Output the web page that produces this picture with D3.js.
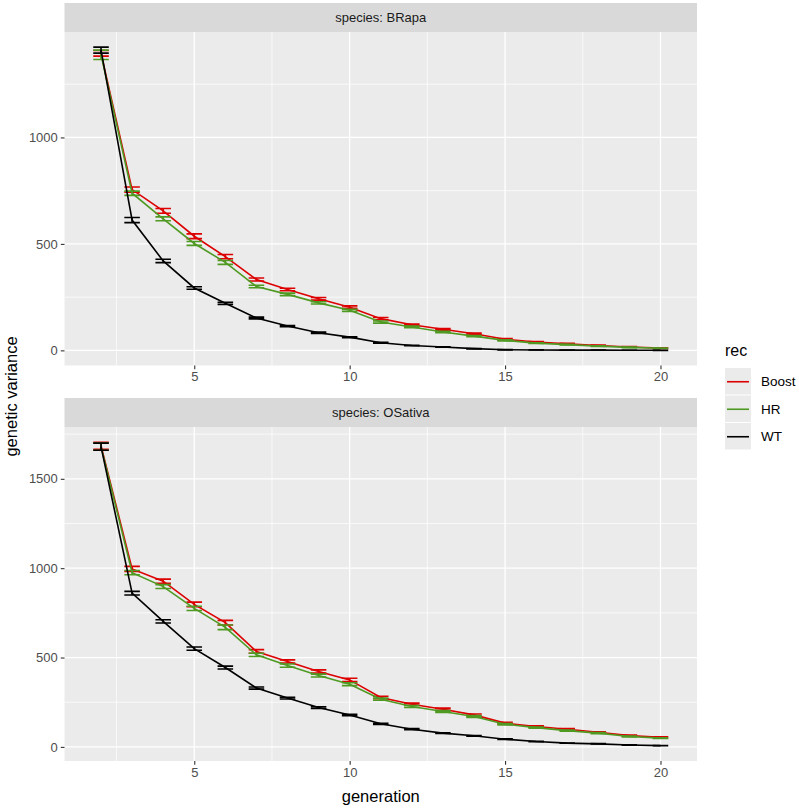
<!DOCTYPE html>
<html>
<head>
<meta charset="utf-8">
<script src="https://cdn.jsdelivr.net/npm/d3@7"></script>
<style>
  body { margin: 0; background: #fff; }
  svg { display: block; font-family: "Liberation Sans", Arial, Helvetica, sans-serif; }
</style>
</head>
<body>
<div id="chart"></div>
<script>
// ---- data ----
const generations = [2, 3, 4, 5, 6, 7, 8, 9, 10, 11, 12, 13, 14, 15, 16, 17, 18, 19, 20];
const seriesNames = ["Boost", "HR", "WT"];
const speciesNames = ["BRapa", "OSativa"];

const brapaBoost = [1395, 755, 655, 536, 440, 333, 286, 242, 203, 149, 120, 99, 78, 52, 39, 31, 23, 16, 11];
const brapaHR    = [1388, 738, 618, 502, 413, 300, 263, 223, 188, 133, 110, 86, 67, 47, 34, 27, 20, 14, 10];
const brapaWT    = [1410, 612, 420, 293, 221, 152, 114, 83, 62, 36, 23, 16, 8, 3, 2, 1, 1, 0.5, 0.3];
const brapaBoostErr = [13, 12, 11, 11, 10, 7, 6, 6, 6, 5, 4, 4, 3, 3, 2, 2, 2, 1.5, 1.5];
const brapaHRErr    = [22, 10, 9, 9, 9, 6, 6, 5, 5, 5, 4, 3, 3, 3, 2, 2, 2, 1.5, 1];
const brapaWTErr    = [14, 12, 8, 6, 5, 4, 3, 3, 2, 2, 1, 1, 1, 1, 0.5, 0.5, 0.3, 0.3, 0.2];

const osativaBoost = [1685, 996, 927, 797, 695, 534, 478, 422, 375, 276, 239, 211, 179, 133, 114, 99, 82, 63, 54];
const osativaHR    = [1680, 975, 897, 775, 669, 515, 455, 399, 351, 267, 226, 198, 170, 127, 108, 91, 77, 58, 49];
const osativaWT    = [1680, 860, 702, 550, 444, 329, 273, 220, 179, 129, 99, 77, 62, 43, 30, 21, 17, 11, 7];
const osativaBoostErr = [20, 14, 12, 13, 13, 10, 9, 9, 9, 7, 6, 6, 5, 4, 4, 3, 3, 3, 2];
const osativaHRErr    = [20, 12, 11, 12, 13, 9, 9, 8, 8, 6, 6, 5, 5, 4, 3, 3, 3, 2, 2];
const osativaWTErr    = [20, 10, 9, 9, 8, 6, 5, 5, 4, 3, 3, 2, 2, 2, 1, 1, 1, 1, 1];

const xTicks = [5, 10, 15, 20];
const xMinor = [2.5, 7.5, 12.5, 17.5];
const brapaYTicks = [0, 500, 1000];
const osativaYTicks = [0, 500, 1000, 1500];

const colors = { Boost: "#dd0000", HR: "#4f9a23", WT: "#000000" };

// ---- assemble ----
const panels = [
  { species: "BRapa", yTicks: brapaYTicks,
    series: [
      { name: "Boost", mean: brapaBoost, err: brapaBoostErr },
      { name: "HR", mean: brapaHR, err: brapaHRErr },
      { name: "WT", mean: brapaWT, err: brapaWTErr } ] },
  { species: "OSativa", yTicks: osativaYTicks,
    series: [
      { name: "Boost", mean: osativaBoost, err: osativaBoostErr },
      { name: "HR", mean: osativaHR, err: osativaHRErr },
      { name: "WT", mean: osativaWT, err: osativaWTErr } ] }
];

const W = 799, H = 808;
const panelLeft = 64.5, panelRight = 697;
const stripH = 29;
const panelBoxes = [ { stripTop: 3, top: 32, bottom: 365.5 }, { stripTop: 398, top: 427, bottom: 761 } ];
const errW = 0.5;

const svg = d3.select("#chart").append("svg").attr("width", W).attr("height", H);

const xMinD = d3.min(generations) - errW / 2, xMaxD = d3.max(generations) + errW / 2;
const xR = xMaxD - xMinD;
const x = d3.scaleLinear().domain([xMinD - 0.05 * xR, xMaxD + 0.05 * xR]).range([panelLeft, panelRight]);

panels.forEach((p, i) => {
  const box = panelBoxes[i];
  const lows = p.series.flatMap(s => s.mean.map((m, k) => m - s.err[k]));
  const highs = p.series.flatMap(s => s.mean.map((m, k) => m + s.err[k]));
  const lo = d3.min(lows), hi = d3.max(highs), r = hi - lo;
  const y = d3.scaleLinear().domain([lo - 0.05 * r, hi + 0.05 * r]).range([box.bottom, box.top]);

  // strip
  svg.append("rect").attr("x", panelLeft).attr("y", box.stripTop).attr("width", panelRight - panelLeft)
    .attr("height", stripH).attr("fill", "#d9d9d9");
  svg.append("text").attr("x", (panelLeft + panelRight) / 2).attr("y", box.stripTop + stripH / 2 + 4.5)
    .attr("text-anchor", "middle").attr("font-size", 13).attr("fill", "#1a1a1a")
    .text("species: " + p.species);

  // panel bg
  svg.append("rect").attr("x", panelLeft).attr("y", box.top).attr("width", panelRight - panelLeft)
    .attr("height", box.bottom - box.top).attr("fill", "#ebebeb");

  const g = svg.append("g");
  // minor grid
  const yMinor = d3.range(250, y.domain()[1], 500);
  g.selectAll(null).data(yMinor).join("line")
    .attr("x1", panelLeft).attr("x2", panelRight).attr("y1", d => y(d)).attr("y2", d => y(d))
    .attr("stroke", "#fff").attr("stroke-width", 0.7);
  g.selectAll(null).data(xMinor).join("line")
    .attr("y1", box.top).attr("y2", box.bottom).attr("x1", d => x(d)).attr("x2", d => x(d))
    .attr("stroke", "#fff").attr("stroke-width", 0.7);
  // major grid
  g.selectAll(null).data(p.yTicks).join("line")
    .attr("x1", panelLeft).attr("x2", panelRight).attr("y1", d => y(d)).attr("y2", d => y(d))
    .attr("stroke", "#fff").attr("stroke-width", 1.3);
  g.selectAll(null).data(xTicks).join("line")
    .attr("y1", box.top).attr("y2", box.bottom).attr("x1", d => x(d)).attr("x2", d => x(d))
    .attr("stroke", "#fff").attr("stroke-width", 1.3);

  // y axis
  const yAxis = d3.axisLeft(y).tickValues(p.yTicks).tickSize(3.7).tickPadding(3).tickFormat(d3.format("d"));
  const ya = svg.append("g").attr("transform", `translate(${panelLeft},0)`).call(yAxis);
  ya.select(".domain").remove();
  ya.selectAll(".tick line").attr("stroke", "#333").attr("stroke-width", 1.1);
  ya.selectAll(".tick text").attr("fill", "#4d4d4d").attr("font-size", 13)
    .attr("font-family", "'Liberation Sans', Arial, sans-serif");

  // x axis
  const xAxis = d3.axisBottom(x).tickValues(xTicks).tickSize(3.7).tickPadding(3).tickFormat(d3.format("d"));
  const xa = svg.append("g").attr("transform", `translate(0,${box.bottom})`).call(xAxis);
  xa.select(".domain").remove();
  xa.selectAll(".tick line").attr("stroke", "#333").attr("stroke-width", 1.1);
  xa.selectAll(".tick text").attr("fill", "#4d4d4d").attr("font-size", 13)
    .attr("font-family", "'Liberation Sans', Arial, sans-serif");

  // series in ggplot group order: Boost, HR, WT
  const line = d3.line().x(d => x(d.g)).y(d => y(d.v));
  p.series.forEach(s => {
    const pts = generations.map((gen, k) => ({ g: gen, v: s.mean[k], e: s.err[k] }));
    const sg = svg.append("g");
    sg.selectAll(null).data(pts).join("path")
      .attr("d", d => {
        const x0 = x(d.g - errW / 2), x1 = x(d.g + errW / 2);
        const yl = y(d.v - d.e), yh = y(d.v + d.e), xc = x(d.g);
        return `M${x0},${yh}H${x1}M${xc},${yh}V${yl}M${x0},${yl}H${x1}`;
      })
      .attr("fill", "none").attr("stroke", colors[s.name]).attr("stroke-width", 1.6);
    sg.append("path").datum(pts).attr("d", line)
      .attr("fill", "none").attr("stroke", colors[s.name]).attr("stroke-width", 1.6);
  });
});

// axis titles
svg.append("text").attr("x", (panelLeft + panelRight) / 2).attr("y", 802)
  .attr("text-anchor", "middle").attr("font-size", 16.5).attr("fill", "#000").text("generation");
svg.append("text").attr("transform", `translate(17,${(32 + 761) / 2}) rotate(-90)`)
  .attr("text-anchor", "middle").attr("font-size", 16.5).attr("fill", "#000").text("genetic variance");

// legend
const lg = svg.append("g").attr("transform", "translate(725,0)");
lg.append("text").attr("x", 0).attr("y", 356).attr("font-size", 16).attr("fill", "#000").text("rec");
const keyTop = 368, keyH = 27.5, keyW = 26;
seriesNames.forEach((n, i) => {
  const ky = keyTop + i * keyH;
  lg.append("rect").attr("x", 0).attr("y", ky).attr("width", keyW).attr("height", keyH - 1)
    .attr("fill", "#ebebeb");
  lg.append("line").attr("x1", 2).attr("x2", keyW - 2).attr("y1", ky + keyH / 2).attr("y2", ky + keyH / 2)
    .attr("stroke", colors[n]).attr("stroke-width", 1.6);
  lg.append("text").attr("x", keyW + 10).attr("y", ky + keyH / 2 + 4.5).attr("font-size", 13.5)
    .attr("fill", "#000").text(n);
});
</script>
</body>
</html>
